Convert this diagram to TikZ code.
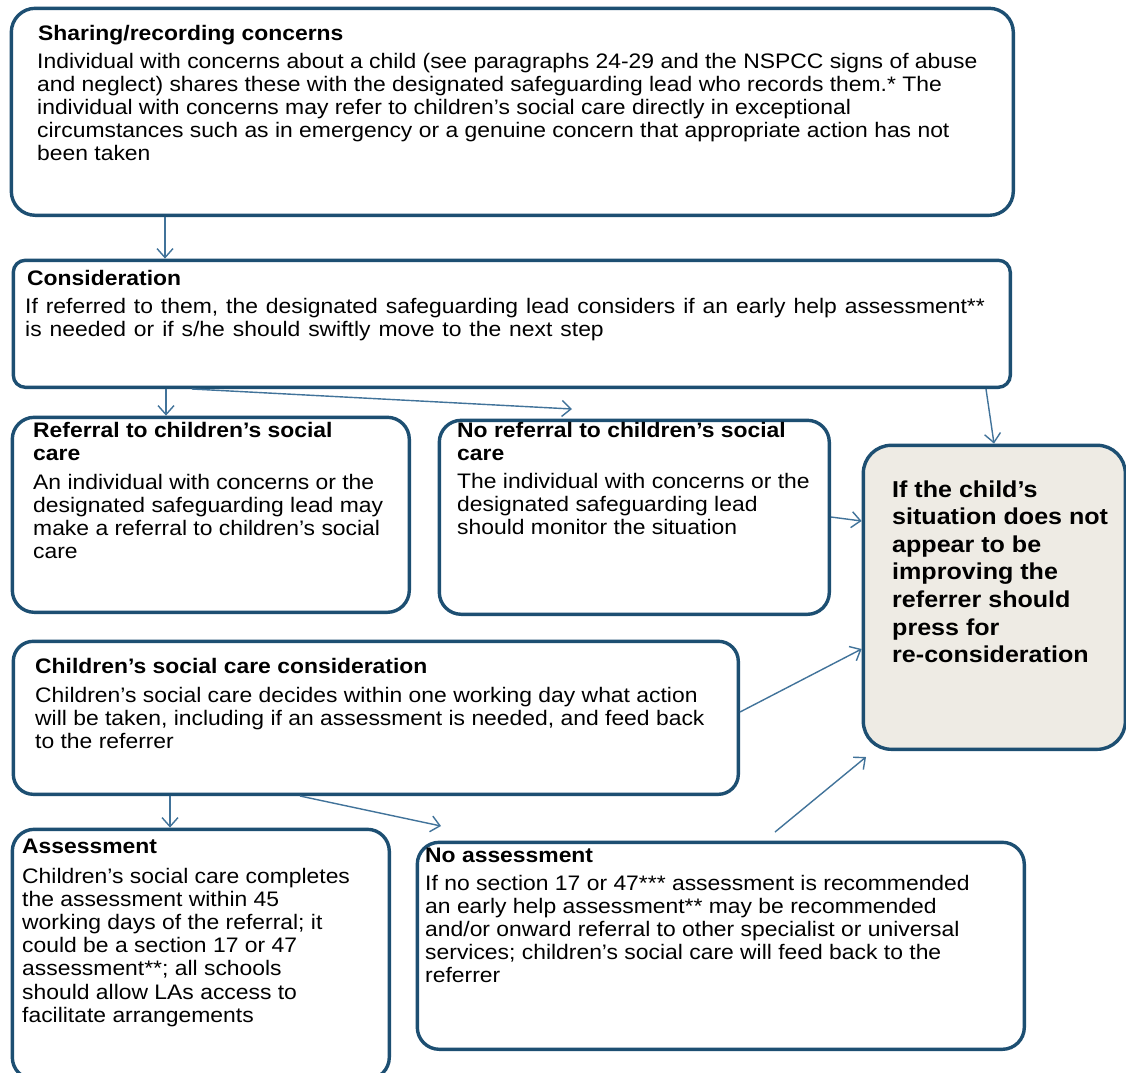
\documentclass[tikz,border=0pt]{standalone}
\usepackage{fontspec}
\setmainfont{Liberation Sans}[FakeStretch=1.09]
\newfontfamily\widespacefont{Liberation Sans}[FakeStretch=1.09, WordSpace=1.25]
\usetikzlibrary{arrows.meta}
\definecolor{boxblue}{HTML}{1D4F72}
\definecolor{arrblue}{HTML}{41739A}
\definecolor{notefill}{HTML}{EEEBE4}
\newcommand\mylines[1]{\begin{tabular}[t]{@{}l@{}}#1\end{tabular}}
\newcommand\bodyfont{\fontsize{21}{23.2}\selectfont}
\newcommand\bigfont{\fontsize{23}{27.6}\selectfont\bfseries}
\begin{document}
\begin{tikzpicture}[x=1pt,y=-1pt,
  box/.style={draw=boxblue, line width=3.4pt, rounded corners=#1, fill=white,
              inner sep=0pt, anchor=north west},
  txt/.style={inner sep=0pt, anchor=base west, font=\bodyfont, text=black},
  ttl/.style={inner sep=0pt, anchor=base west, font=\bodyfont\bfseries, text=black},
  arr/.style={draw=arrblue, line width=1.4pt,
              -{Straight Barb[length=9pt,width=16pt]}}]
\useasboundingbox (0,0) rectangle (1126,1072);
\fill[white] (0,0) rectangle (1126,1072);
\clip (0,0) rectangle (1126,1072);

% boxes
\node[box=24pt, minimum width=1002pt, minimum height=207pt] (b1) at (9.6,6.6) {};
\node[box=12pt, minimum width=997pt, minimum height=127pt] (b2) at (11.6,258.6) {};
\node[box=22pt, minimum width=397pt, minimum height=195pt] (b3) at (10.6,415.6) {};
\node[box=22pt, minimum width=390pt, minimum height=194pt] (b4) at (437.6,418.6) {};
\node[box=28pt, minimum width=262pt, minimum height=304pt, fill=notefill] (b5) at (861.6,443.6) {};
\node[box=20pt, minimum width=725pt, minimum height=153pt] (b6) at (11.6,639.6) {};
\node[box=22pt, minimum width=377pt, minimum height=250pt] (b7) at (10.6,827.6) {};
\node[box=22pt, minimum width=607pt, minimum height=207pt] (b8) at (415.6,840.6) {};

% texts
\node[ttl] (t1) at (38,40) {Sharing/recording concerns};
\node[txt] (x1) at (37,68) {\mylines{Individual with concerns about a child (see paragraphs 24-29 and the NSPCC signs of abuse\\
and neglect) shares these with the designated safeguarding lead who records them.* The\\
individual with concerns may refer to children’s social care directly in exceptional\\
circumstances such as in emergency or a genuine concern that appropriate action has not\\
been taken}};

\node[ttl] (t2) at (27,285) {Consideration};
\node[txt, font=\widespacefont\bodyfont] (x2) at (25,313) {\mylines{If referred to them, the designated safeguarding lead considers if an early help assessment**\\
is needed or if s/he should swiftly move to the next step}};

\node[ttl] (t3) at (33,437) {\mylines{Referral to children’s social\\ care}};
\node[txt] (x3) at (33,489) {\mylines{An individual with concerns or the\\
designated safeguarding lead may\\
make a referral to children’s social\\
care}};

\node[ttl] (t4) at (457,437) {\mylines{No referral to children’s social\\ care}};
\node[txt] (x4) at (457,488) {\mylines{The individual with concerns or the\\
designated safeguarding lead\\
should monitor the situation}};

\node[txt, font=\bigfont] (t5) at (892,497) {\mylines{If the child’s\\
situation does not\\
appear to be\\
improving the\\
referrer should\\
press for\\
re-consideration}};

\node[ttl] (t6) at (35,673) {Children’s social care consideration};
\node[txt] (x6) at (35,702) {\mylines{Children’s social care decides within one working day what action\\
will be taken, including if an assessment is needed, and feed back\\
to the referrer}};

\node[ttl] (t7) at (22,853) {Assessment};
\node[txt] (x7) at (22,883) {\mylines{Children’s social care completes\\
the assessment within 45\\
working days of the referral; it\\
could be a section 17 or 47\\
assessment**; all schools\\
should allow LAs access to\\
facilitate arrangements}};

\node[ttl] (t8) at (425,862) {No assessment};
\node[txt] (x8) at (425,890) {\mylines{If no section 17 or 47*** assessment is recommended\\
an early help assessment** may be recommended\\
and/or onward referral to other specialist or universal\\
services; children’s social care will feed back to the\\
referrer}};

% connector end points
\coordinate (c3) at (572,409);
\coordinate (c8) at (441,826);
\coordinate (c9s) at (775,832);
\coordinate (c9e) at (866,757);

% connectors
\draw[arr] (165,0 |- b1.south) -- (165,0 |- b2.north);
\draw[arr] (166,0 |- b2.south) -- (166,0 |- b3.north);
\draw[arr] (192,0 |- b2.south) -- (c3);
\draw[arr] (986,0 |- b2.south) -- (994,0 |- b5.north);
\draw[arr] (b4.east |- 0,517) -- (b5.west |- 0,521);
\draw[arr] (b6.east |- 0,712) -- (b5.west |- 0,649);
\draw[arr] (170,0 |- b6.south) -- (170,0 |- b7.north);
\draw[arr] (300,0 |- b6.south) -- (c8);
\draw[arr] (c9s) -- (c9e);
\end{tikzpicture}
\end{document}
